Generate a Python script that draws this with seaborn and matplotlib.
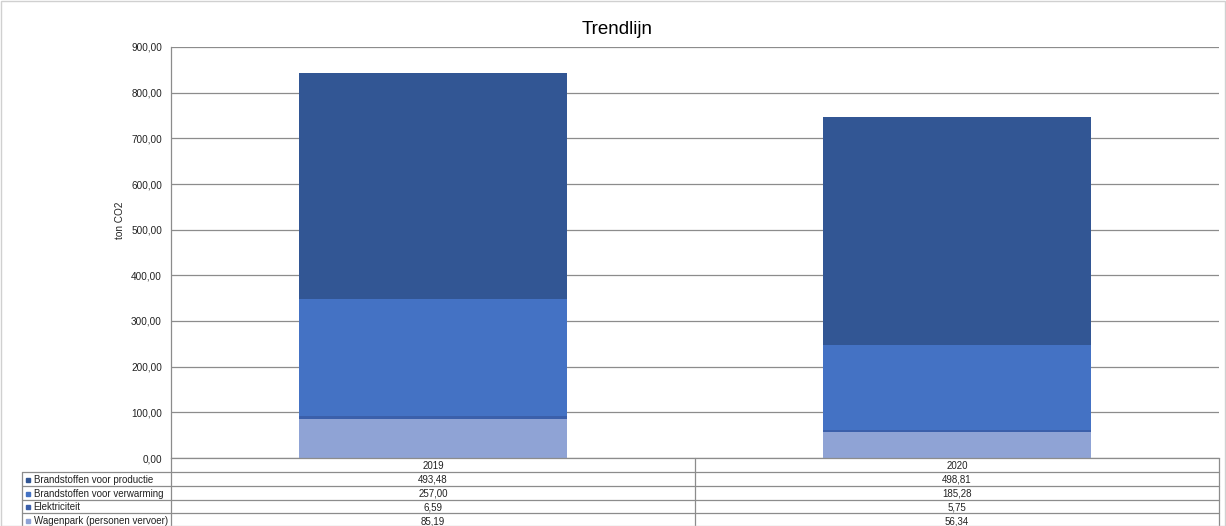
import numpy as np
import pandas as pd
import matplotlib
matplotlib.use("Agg")
import matplotlib.pyplot as plt
import seaborn as sns

# data
years = ["2019", "2020"]
series = ["Brandstoffen voor productie", "Brandstoffen voor verwarming",
          "Elektriciteit", "Wagenpark (personen vervoer)"]
productie = [493.48, 498.81]
verwarming = [257.00, 185.28]
elektriciteit = [6.59, 5.75]
wagenpark = [85.19, 56.34]
value_labels = [["493,48", "498,81"], ["257,00", "185,28"],
                ["6,59", "5,75"], ["85,19", "56,34"]]
colors = ["#325694", "#4472C4", "#3B5FAA", "#8FA3D5"]

sns.set_theme(style="white")
plt.rcParams["font.family"] = ["Liberation Sans", "DejaVu Sans"]

W, H = 1226, 526
fig = plt.figure(figsize=(W / 100, H / 100), dpi=100)

# plot area in pixels
x0, x1, ytop, ybot = 171, 1219, 47, 458
ax = fig.add_axes([x0 / W, 1 - ybot / H, (x1 - x0) / W, (ybot - ytop) / H])

# stacked bars: draw cumulative totals from the top layer down
stack_bottom_up = [wagenpark, elektriciteit, verwarming, productie]
colors_bottom_up = [colors[3], colors[2], colors[1], colors[0]]
cum = np.cumsum(np.array(stack_bottom_up), axis=0)
for i in range(len(stack_bottom_up) - 1, -1, -1):
    df = pd.DataFrame({"year": years, "value": cum[i]})
    sns.barplot(data=df, x="year", y="value", color=colors_bottom_up[i],
                width=0.513, saturation=1, ax=ax, zorder=2, linewidth=0)

ax.set_ylim(0, 900)
ax.set_xlim(-0.5, 1.5)
ax.set_yticks(np.arange(0, 901, 100))
ax.set_yticklabels([f"{v:,.2f}".replace(".", ",") for v in np.arange(0, 901, 100)],
                   fontsize=7.2, color="#222222")
ax.tick_params(axis="y", length=0, pad=6.5)
ax.set_xticks([])
ax.set_xlabel("")
ax.set_ylabel("")
ax.yaxis.grid(True, color="#8c8c8c", linewidth=0.9, zorder=0)
ax.set_axisbelow(True)
for s in ["top", "right"]:
    ax.spines[s].set_visible(False)
for s in ["left", "bottom"]:
    ax.spines[s].set_color("#8c8c8c")
    ax.spines[s].set_linewidth(0.9)
    ax.spines[s].set_zorder(5)

fig.text(120 / W, 1 - 220 / H, "ton CO2", rotation=90, fontsize=7.2,
         ha="center", va="center", color="#222222")
fig.text(617 / W, 1 - 30 / H, "Trendlijn", fontsize=13.5, ha="center",
         va="center", color="black")

# data table below the plot, in pixel coordinates
tab = fig.add_axes([0, 0, 1, 1], facecolor="none")
tab.set_xlim(0, W)
tab.set_ylim(H, 0)
tab.axis("off")
line_kw = dict(color="#8c8c8c", linewidth=0.9)
row_edges = [458, 472, 486, 500, 513, 527]
xmid = 695
xl = 22
# grid lines of the table
tab.plot([x0, x1], [row_edges[1], row_edges[1]], **line_kw)
tab.plot([x1, x1], [row_edges[0], H], **line_kw)
tab.plot([xmid, xmid], [row_edges[0], H], **line_kw)
tab.plot([x0, x0], [row_edges[0], H], **line_kw)
tab.plot([xl, xl], [row_edges[1], H], **line_kw)
tab.plot([xl, x0], [row_edges[1], row_edges[1]], **line_kw)
for r in row_edges[2:5]:
    tab.plot([xl, x1], [r, r], **line_kw)
for j, yr in enumerate(years):
    cx = (x0 + xmid) / 2 if j == 0 else (xmid + x1) / 2
    tab.text(cx, (row_edges[0] + row_edges[1]) / 2 + 1, yr, fontsize=7,
             ha="center", va="center", color="#222222")
for i, name in enumerate(series):
    cy = (row_edges[i + 1] + row_edges[i + 2]) / 2 + 1
    tab.plot(xl + 5.5, cy - 0.3, marker="s", markersize=3.4, color=colors[i],
             linestyle="none")
    tab.text(xl + 11.5, cy, name, fontsize=7, ha="left", va="center",
             color="#222222")
    for j in range(2):
        cx = (x0 + xmid) / 2 if j == 0 else (xmid + x1) / 2
        tab.text(cx, cy, value_labels[i][j], fontsize=7, ha="center",
                 va="center", color="#222222")

# outer frame
fig.patches.append(plt.Rectangle((0.5 / W, 0.5 / H), (W - 1.5) / W, (H - 1.5) / H,
                                 transform=fig.transFigure, fill=False,
                                 edgecolor="#d0d0d0", linewidth=1))

fig.savefig("out.png", dpi=100)
